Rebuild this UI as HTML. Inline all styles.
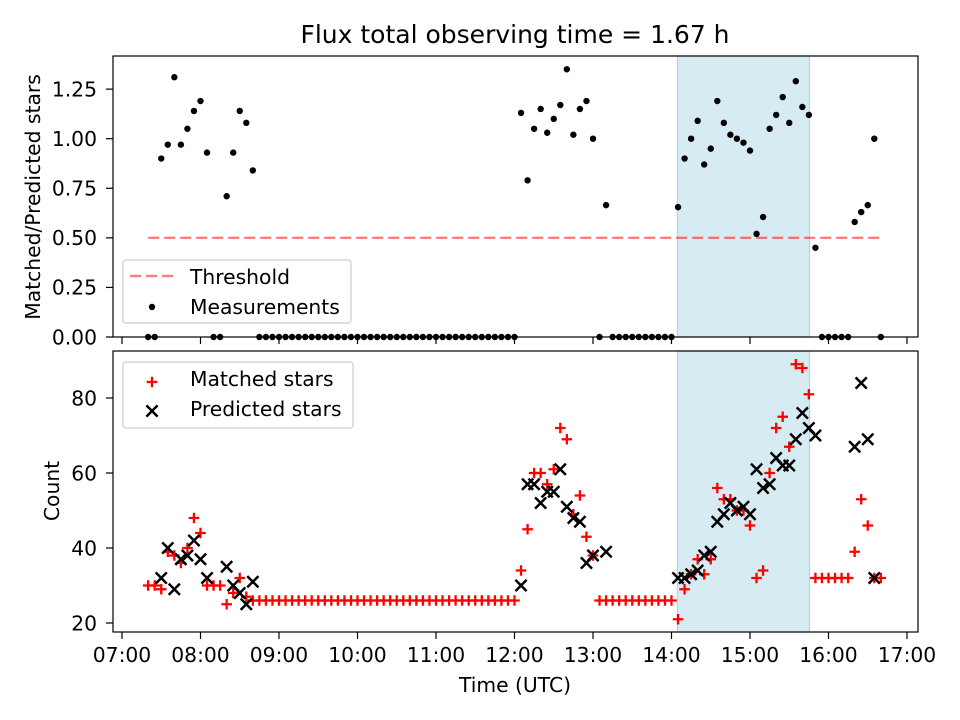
<!DOCTYPE html>
<html><head><meta charset="utf-8"><style>
html,body{margin:0;padding:0;background:#fff;}
svg{display:block;font-family:"DejaVu Sans","Liberation Sans",sans-serif;}
</style></head><body>
<svg id="chart" width="960" height="720" viewBox="0 0 960 720" xmlns="http://www.w3.org/2000/svg"></svg>
<script>
// ---- data ----
const startTime = "07:20";
const stepMinutes = 5;
const ratioValues = [0,0,0.90,0.97,1.31,0.97,1.05,1.14,1.19,0.93,0,0,0.71,0.93,1.14,1.08,0.84,
0,0,0,0,0,0,0,0,0,0,0,0,0,0,0,0,0,0,0,0,0,0,0,0,0,0,0,0,0,0,0,0,0,0,0,0,0,0,0,0,
1.13,0.79,1.05,1.15,1.03,1.10,1.17,1.35,1.02,1.15,1.19,1.00,
0,0.665,0,0,0,0,0,0,0,0,0,0,
0.655,0.90,1.00,1.09,0.87,0.95,1.19,1.08,1.02,1.00,0.98,0.94,
0.52,0.605,1.05,1.12,1.21,1.08,1.29,1.16,1.12,0.45,
0,0,0,0,0,
0.58,0.63,0.665,1.00,0];
const matchedValues = [30,30,29,39,38,36,40,48,44,30,30,30,25,28,32,27,26,
26,26,26,26,26,26,26,26,26,26,26,26,26,26,26,26,26,26,26,26,26,26,26,26,26,26,26,26,26,26,26,26,26,26,26,26,26,26,26,26,
34,45,60,60,57,61,72,69,49,54,43,38,
26,26,26,26,26,26,26,26,26,26,26,26,
21,29,33,37,33,37,56,53,53,50,50,46,
32,34,60,72,75,67,89,88,81,32,
32,32,32,32,32,
39,53,46,32,32];
const predictedValues = [null,null,32,40,29,37,38,42,37,32,null,null,35,30,28,25,31,
null,null,null,null,null,null,null,null,null,null,null,null,null,null,null,null,null,null,null,null,null,null,null,null,null,null,null,null,null,null,null,null,null,null,null,null,null,null,null,null,
30,57,57,52,55,55,61,51,48,47,36,38,
null,39,null,null,null,null,null,null,null,null,null,null,
32,32,33,34,38,39,47,49,52,50,51,49,
61,56,57,64,62,62,69,76,72,70,
null,null,null,null,null,
67,84,69,32,null];
const thresholdValue = 0.5;
const shadeSpan = ["14:04.5","15:45.5"];
const xTickLabels = ["07:00","08:00","09:00","10:00","11:00","12:00","13:00","14:00","15:00","16:00","17:00"];
const topYTicks = [0,0.25,0.5,0.75,1.0,1.25];
const bottomYTicks = [20,40,60,80];

// ---- axes ----
const NS="http://www.w3.org/2000/svg";
const svg=document.getElementById('chart');
const L=113,R=918,T1=56,B1=337,T2=351,B2=632;
const FS='20.3';
function toMin(s){const p=s.split(':');return (+p[0])*60+parseFloat(p[1]);}
function xScale(min){return 122+(min-420)*78.5/60;}
function yTop(v){return 337-v*198.3;}
function yBot(v){return 623-(v-20)*3.75;}
const times=ratioValues.map((_,i)=>toMin(startTime)+i*stepMinutes);
function mk(tag,attrs,parent){const e=document.createElementNS(NS,tag);for(const k in attrs)e.setAttribute(k,attrs[k]);(parent||svg).appendChild(e);return e;}

// title
let t=mk('text',{x:515,y:43,'text-anchor':'middle','font-size':'25',fill:'#000'});
t.textContent='Flux total observing time = 1.67 h';



// shaded spans
[[T1,B1],[T2,B2]].forEach(([a,b],k)=>{
  const x0=xScale(toMin(shadeSpan[0])),x1=xScale(toMin(shadeSpan[1]));
  const r=mk('rect',{x:x0,y:a,width:x1-x0,height:b-a,fill:'#add8e6','fill-opacity':'0.5',stroke:'#add8e6','stroke-width':1.2});
  
  
});

// threshold
let th=mk('line',{x1:xScale(times[0]),x2:xScale(times[times.length-1]),y1:yTop(thresholdValue),y2:yTop(thresholdValue),stroke:'#ff0000','stroke-opacity':'0.5','stroke-width':2.4,'stroke-dasharray':'11,5'});



// measurement dots
const gm=mk('g',{});


ratioValues.forEach((v,i)=>{
  const c=mk('circle',{cx:xScale(times[i]),cy:yTop(v),r:3.2,fill:'#000'},gm);
  
  
});

// matched pluses
const gp=mk('g',{});


matchedValues.forEach((v,i)=>{
  if(v==null)return;
  const x=xScale(times[i]),y=yBot(v);
  const p=mk('path',{d:`M${x-5.3},${y}H${x+5.3}M${x},${y-5.3}V${y+5.3}`,stroke:'#ff0000','stroke-width':2.3},gp);
  
  
});
// predicted x
const gx=mk('g',{});


predictedValues.forEach((v,i)=>{
  if(v==null)return;
  const x=xScale(times[i]),y=yBot(v),d=5.6;
  const p=mk('path',{d:`M${x-d},${y-d}L${x+d},${y+d}M${x-d},${y+d}L${x+d},${y-d}`,stroke:'#000','stroke-width':2.5},gx);
  
  
});

// frames
[[T1,B1],[T2,B2]].forEach(([a,b],k)=>{
  const r=mk('rect',{x:L,y:a,width:R-L,height:b-a,fill:'none',stroke:'#000','stroke-width':1.2});
  
  
});

// x ticks
xTickLabels.forEach((lab,i)=>{
  const x=xScale(toMin(lab));
  mk('line',{x1:x,x2:x,y1:B1,y2:B1+7,stroke:'#000','stroke-width':1.2});
  mk('line',{x1:x,x2:x,y1:B2,y2:B2+7,stroke:'#000','stroke-width':1.2});
  const tx=mk('text',{x:x,y:662,'text-anchor':'middle','font-size':FS,fill:'#000'});
  tx.textContent=lab;
  
  
});
topYTicks.forEach(v=>{
  const y=yTop(v);
  mk('line',{x1:L-7,x2:L,y1:y,y2:y,stroke:'#000','stroke-width':1.2});
  const tx=mk('text',{x:L-16,y:y+7.3,'text-anchor':'end','font-size':FS,fill:'#000'});
  tx.textContent=v.toFixed(2);
  
  
});
bottomYTicks.forEach(v=>{
  const y=yBot(v);
  mk('line',{x1:L-7,x2:L,y1:y,y2:y,stroke:'#000','stroke-width':1.2});
  const tx=mk('text',{x:L-16,y:y+7.3,'text-anchor':'end','font-size':FS,fill:'#000'});
  tx.textContent=String(v);
  
  
});

// axis titles
let a1=mk('text',{x:0,y:0,'text-anchor':'middle','font-size':FS,fill:'#000',transform:'translate(40,197) rotate(-90)'});
a1.textContent='Matched/Predicted stars';


let a2=mk('text',{x:0,y:0,'text-anchor':'middle','font-size':FS,fill:'#000',transform:'translate(59,491) rotate(-90)'});
a2.textContent='Count';


let a3=mk('text',{x:515,y:692,'text-anchor':'middle','font-size':FS,fill:'#000'});
a3.textContent='Time (UTC)';



// legends
const lg1=mk('g',{});


mk('rect',{x:123,y:260,width:228,height:63,rx:3,fill:'#fff','fill-opacity':'0.8',stroke:'#ccc','stroke-width':1.2},lg1);
mk('line',{x1:130,x2:174,y1:276,y2:276,stroke:'#ff0000','stroke-opacity':'0.5','stroke-width':2.4,'stroke-dasharray':'11,5'},lg1);
let l1=mk('text',{x:190,y:284,'font-size':FS,fill:'#000'},lg1);l1.textContent='Threshold';


mk('circle',{cx:152,cy:307,r:3.2,fill:'#000'},lg1);
let l2=mk('text',{x:190,y:314,'font-size':FS,fill:'#000'},lg1);l2.textContent='Measurements';



const lg2=mk('g',{});


mk('rect',{x:123,y:362,width:230,height:66,rx:3,fill:'#fff','fill-opacity':'0.8',stroke:'#ccc','stroke-width':1.2},lg2);
mk('path',{d:'M146.7,382H157.3M152,376.7V387.3',stroke:'#ff0000','stroke-width':2.3},lg2);
let l3=mk('text',{x:190,y:386,'font-size':FS,fill:'#000'},lg2);l3.textContent='Matched stars';


mk('path',{d:'M146.4,405.4L157.6,416.6M146.4,416.6L157.6,405.4',stroke:'#000','stroke-width':2.5},lg2);
let l4=mk('text',{x:190,y:416,'font-size':FS,fill:'#000'},lg2);l4.textContent='Predicted stars';


</script>
</body></html>
